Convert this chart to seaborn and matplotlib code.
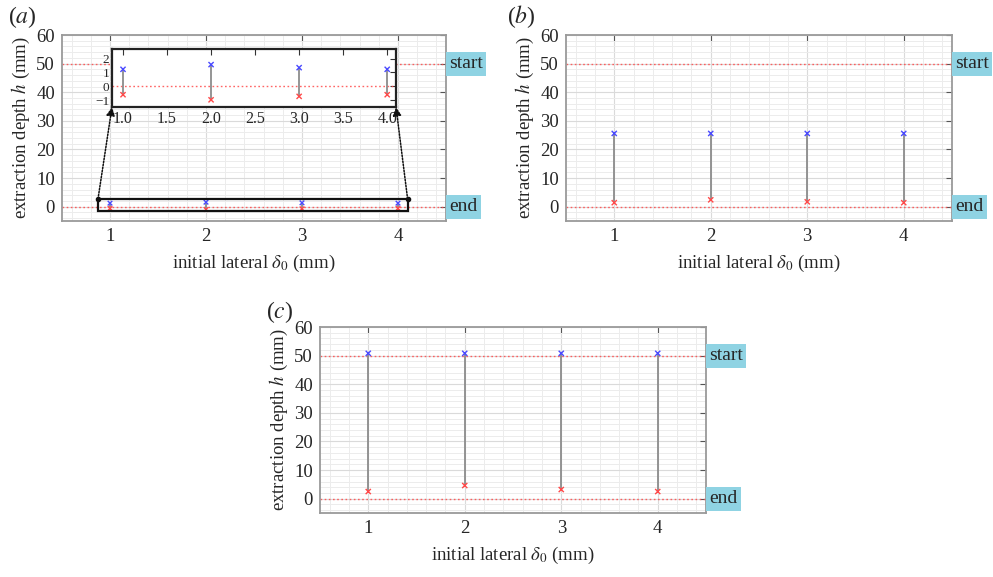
import numpy as np
import pandas as pd
import matplotlib
matplotlib.use("Agg")
import matplotlib.pyplot as plt
import seaborn as sns
from matplotlib.patches import Rectangle, ConnectionPatch
from matplotlib.ticker import MultipleLocator
import matplotlib.transforms as mtransforms

# ---- data ----
lateral = [1, 2, 3, 4]
start_a = [1.23, 1.57, 1.35, 1.23]
end_a = [-0.61, -0.98, -0.73, -0.61]
start_b = [25.6, 25.6, 25.6, 25.6]
end_b = [1.4, 2.4, 1.7, 1.4]
start_c = [50.8, 50.8, 50.8, 50.8]
end_c = [2.5, 4.6, 3.2, 2.5]
start_level = 50
end_level = 0
panel_labels = ["a", "b", "c"]
xticks = [1, 2, 3, 4]
yticks = [0, 10, 20, 30, 40, 50, 60]
inset_xticks = [1.0, 1.5, 2.0, 2.5, 3.0, 3.5, 4.0]
inset_yticks = [-1, 0, 1, 2]

sns.set_theme(style="white")
plt.rcParams['font.family'] = ['Liberation Serif', 'DejaVu Serif']
plt.rcParams['mathtext.fontset'] = 'stix'

fig = plt.figure(figsize=(9.93, 5.77), dpi=100)

W, H = 993, 577
def px_axes(l, t, r, b):
    return [l / W, 1 - b / H, (r - l) / W, (b - t) / H]

SPINE = '#9a9a9a'
START_C = '#4a4aff'
END_C = '#ff4a4a'
BOX = '#8fd3e3'

def style_main(ax):
    ax.set_xlim(0.5, 4.5)
    ax.set_ylim(-5, 60)
    ax.set_xticks(xticks)
    ax.set_yticks(yticks)
    ax.xaxis.set_minor_locator(MultipleLocator(0.2))
    ax.yaxis.set_minor_locator(MultipleLocator(2))
    ax.grid(which='major', color='#dadada', lw=0.8)
    ax.grid(which='minor', color='#ececec', lw=0.7)
    ax.set_axisbelow(True)
    for s in ax.spines.values():
        s.set_color(SPINE)
        s.set_linewidth(1.3)
    ax.tick_params(which='major', direction='in', length=4, width=0.8,
                   color='#555555', top=True, right=True, labelsize=13.5, pad=5)
    ax.tick_params(which='minor', length=0)
    ax.set_xlabel(r"initial lateral $\delta_0$ (mm)", fontsize=13.5, labelpad=6)
    ax.set_ylabel(r"extraction depth $h$ (mm)", fontsize=13.5, labelpad=3)
    for lvl in (start_level, end_level):
        ax.axhline(lvl, color=END_C, ls=(0, (1.2, 1.8)), lw=1.0, zorder=1.5, alpha=0.85)
    tr = mtransforms.blended_transform_factory(ax.transAxes, ax.transData)
    for lvl, txt in ((start_level, 'start'), (end_level, 'end')):
        ax.text(1.008, lvl, txt, transform=tr, ha='left', va='center', fontsize=14,
                bbox=dict(boxstyle='square,pad=0.18', fc=BOX, ec='none'), clip_on=False)

def draw_data(ax, starts, ends, ms=14):
    df = pd.DataFrame({'x': lateral + lateral, 'y': starts + ends,
                       'kind': ['start'] * 4 + ['end'] * 4})
    ax.vlines(lateral, ends, starts, color='#8c8c8c', lw=1.3, zorder=2)
    sns.scatterplot(data=df, x='x', y='y', hue='kind', marker='x',
                    palette={'start': START_C, 'end': END_C}, s=ms, linewidth=1.0,
                    legend=False, ax=ax, zorder=3)
    ax.set_xlabel(r"initial lateral $\delta_0$ (mm)")
    ax.set_ylabel(r"extraction depth $h$ (mm)")

axes_pos = [px_axes(62, 35, 446, 221), px_axes(566, 35, 952, 221), px_axes(320, 327, 706, 513)]
data = [(start_a, end_a), (start_b, end_b), (start_c, end_c)]
label_pos = [(8, 17), (507, 17), (266, 312)]
axs = []
for pos, (st, en), lab, lp in zip(axes_pos, data, panel_labels, label_pos):
    ax = fig.add_axes(pos)
    draw_data(ax, st, en, ms=11 if lab == 'a' else 14)
    style_main(ax)
    fig.text(lp[0] / W, 1 - lp[1] / H, f"(${lab}$)", fontsize=17, ha='left', va='center')
    axs.append(ax)

# ---- inset for panel (a) ----
ax_a = axs[0]
x0, x1, y0, y1 = 0.875, 4.1, -1.5, 2.7
ins = fig.add_axes(px_axes(112, 49, 396, 107))
ins.set_facecolor('white')
ins.axhline(end_level, color=END_C, ls=(0, (1.2, 1.8)), lw=1.0, zorder=1.5, alpha=0.85)
draw_data(ins, start_a, end_a, ms=14)
ins.set_xlim(x0, x1)
ins.set_ylim(y0, y1)
ins.set_xticks(inset_xticks)
ins.set_yticks(inset_yticks)
ins.set_xticklabels([f"{v:.1f}" for v in inset_xticks])
ins.set_yticklabels(["\u22121", "0", "1", "2"])
ins.set_xlabel("")
ins.set_ylabel("")
ins.grid(False)
for s in ins.spines.values():
    s.set_color('#222222')
    s.set_linewidth(1.6)
ins.tick_params(axis='x', direction='in', length=4, width=0.8, color='#333333', top=True,
                labelsize=11.5, pad=3)
ins.tick_params(axis='y', direction='in', length=4, width=0.8, color='#333333', right=True,
                labelsize=9.5, pad=2)
ins.set_zorder(5)

rect = Rectangle((x0, y0), x1 - x0, y1 - y0, fill=False, ec='#111111', lw=1.6, zorder=4)
ax_a.add_patch(rect)
ax_a.plot([x0, x1], [y1, y1], 'o', color='#111111', ms=3, zorder=5)
for xa, xi in ((x0, 0), (x1, 1)):
    con = ConnectionPatch(xyA=(xa, y1), coordsA=ax_a.transData,
                          xyB=(xi, 0), coordsB=ins.transAxes,
                          arrowstyle='-|>,head_length=0.5,head_width=0.25',
                          ls=(0, (1, 1)), lw=1.1, color='#111111', zorder=6)
    fig.add_artist(con)

fig.savefig("out.png", dpi=100)
